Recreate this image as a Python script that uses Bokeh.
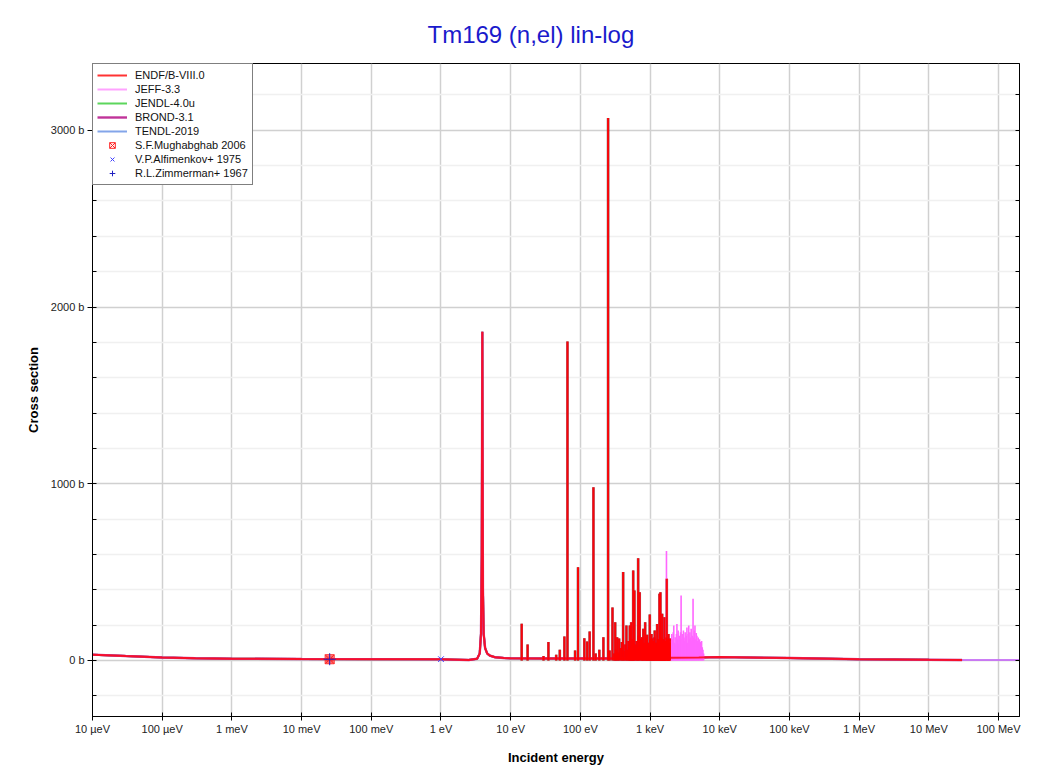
import numpy as np
from bokeh.plotting import figure
from bokeh.models import (FixedTicker, LinearAxis, Range1d, Legend, LegendItem,
                          CustomJSTickFormatter)
from bokeh.embed import file_html
from bokeh.resources import INLINE

FONT = "Liberation Sans"

# ---------------- axis ticks ----------------
x_ticks = [1e-5, 1e-4, 1e-3, 1e-2, 1e-1, 1.0, 10.0, 100.0, 1e3, 1e4, 1e5, 1e6, 1e7, 1e8]
x_tick_labels = ["10 µeV", "100 µeV", "1 meV", "10 meV", "100 meV", "1 eV", "10 eV",
                 "100 eV", "1 keV", "10 keV", "100 keV", "1 MeV", "10 MeV", "100 MeV"]
y_ticks = [0, 1000, 2000, 3000]
y_tick_labels = ["0 b", "1000 b", "2000 b", "3000 b"]

# ---------------- smooth part of the evaluations (E in eV, sigma in b) ----------------
endf_e = [1e-5, 3e-5, 1e-4, 3e-4, 1e-3, 1e-2, 0.1, 1.0, 2.5, 3.3, 3.6, 3.75, 3.85,
          3.9, 3.92, 3.95, 4.0, 4.1, 4.3, 4.6, 5.0, 6.0, 8.0, 10.0, 30.0, 100.0,
          1000.0, 2000.0, 5000.0, 1e4, 1e5, 1e6, 1e7, 3e7]
endf_xs = [33, 25, 17, 13, 10, 8, 7.5, 6.5, 3, 10, 40, 150, 600,
           1500, 1860, 1200, 400, 150, 70, 40, 28, 18, 14, 12, 11, 11,
           11, 15, 17, 19, 14, 7, 4, 3]

# high-energy continuation of JEFF-3.3 and TENDL-2019
ext_e = [3e7, 6e7, 1e8, 2e8]
ext_xs = [3.0, 2.8, 2.6, 2.5]

# ---------------- resolved resonances (peak energies, peak cross sections) ----------------
endf_res_e = [14.4, 17.5, 29.6, 34.8, 45.0, 50.7, 59.0, 65.3, 84.0, 92.6,
              114, 125, 136, 154, 166, 187, 214, 250, 263, 289,
              305, 316, 325, 337, 350, 360, 380, 393, 411, 420,
              440, 458, 470, 490, 500, 512, 525, 536, 550, 560,
              573, 585, 597, 620, 640, 655, 675, 690, 711, 740,
              765, 780, 800, 820, 851, 870, 890, 908, 930, 950,
              970, 991, 1010, 1030, 1050, 1065, 1090, 1110, 1130, 1150,
              1167, 1190, 1210, 1230, 1264, 1280, 1300, 1330, 1350, 1364,
              1380, 1409, 1430, 1450, 1470, 1492, 1520, 1540, 1570, 1590,
              1610, 1640, 1660, 1690, 1710, 1738, 1770, 1790, 1810, 1837,
              1860, 1880, 1900, 1931]
endf_res_xs = [208, 90, 25, 104, 32, 60, 136, 1805, 57, 528,
               126, 107, 164, 980, 40, 60, 132, 3070, 57, 300,
               40, 217, 60, 132, 45, 125, 70, 104, 500, 55,
               90, 198, 60, 110, 75, 198, 70, 217, 85, 120,
               509, 60, 396, 90, 110, 75, 579, 140, 386, 120,
               132, 80, 180, 100, 217, 90, 130, 145, 60, 100,
               80, 260, 120, 70, 150, 125, 90, 110, 60, 130,
               170, 85, 100, 70, 207, 95, 120, 80, 110, 377,
               70, 386, 90, 130, 60, 264, 100, 80, 120, 70,
               245, 90, 110, 80, 130, 462, 100, 75, 120, 150,
               90, 70, 100, 125]

# JEFF-3.3 resonances beyond the ENDF set (extended resolved range)
jeff_res_e = [1720, 1960, 2000, 2050, 2100, 2150, 2190, 2240, 2290, 2340,
              2390, 2430, 2480, 2530, 2580, 2630, 2680, 2740, 2790, 2850,
              2900, 2960, 3010, 3070, 3130, 3190, 3250, 3310, 3380, 3450,
              3520, 3590, 3660, 3730, 3810, 3890, 3970, 4050, 4140, 4230,
              4320, 4410, 4500, 4600, 4700, 4800, 4910, 5020, 5130, 5250,
              5370, 5490, 5610, 5740, 5870]
jeff_res_xs = [620, 110, 90, 150, 120, 160, 198, 100, 132, 90,
               150, 207, 120, 170, 95, 140, 110, 160, 368, 120,
               150, 90, 170, 130, 110, 160, 120, 140, 187, 100,
               150, 198, 120, 160, 130, 180, 110, 140, 349, 130,
               170, 198, 120, 155, 140, 110, 130, 95, 120, 104,
               80, 110, 75, 60, 40]

# ---------------- experimental data ----------------
mugh_e = [0.0253]
mugh_xs = [7.0]
alf_e = [1.0]
alf_xs = [7.5]
zim_e = [0.0253]
zim_xs = [7.0]

C_ENDF = "#ff0000"
C_JEFF = "#ff66ff"
C_JENDL = "#33cc33"
C_BROND = "#b0007f"
C_TENDL = "#4f7fe0"

p = figure(width=1037, height=767, x_axis_type="log",
           x_range=Range1d(1e-5, 2e8), y_range=Range1d(-317, 3378),
           output_backend="svg", toolbar_location=None,
           min_border_left=92, min_border_top=63, min_border_right=18,
           min_border_bottom=51)

p.title.text = "Tm169 (n,el) lin-log"
p.title.text_font = FONT
p.title.text_font_size = "24px"
p.title.text_font_style = "normal"
p.title.text_color = "#1a1acc"
p.title.align = "left"
p.title.offset = 335
p.title.standoff = 32

p.background_fill_color = "white"
p.border_fill_color = "white"
p.outline_line_color = "black"
p.outline_line_width = 1

# ticks / formatters
xtk = FixedTicker(ticks=x_ticks, minor_ticks=[])
y_minor = [v for v in range(-200, 3400, 200) if v not in y_ticks]
ytk = FixedTicker(ticks=y_ticks, minor_ticks=y_minor)
nearest_code = """
let best = 0, d = Infinity;
for (let i = 0; i < vals.length; i++) {
  const dd = Math.abs(%s);
  if (dd < d) { d = dd; best = i; }
}
return labs[best];
"""
xfmt = CustomJSTickFormatter(args=dict(vals=x_ticks, labs=x_tick_labels),
                             code=nearest_code % "Math.log10(vals[i]) - Math.log10(tick)")
yfmt = CustomJSTickFormatter(args=dict(vals=y_ticks, labs=y_tick_labels),
                             code=nearest_code % "vals[i] - tick")

xa = p.xaxis[0]
xa.ticker = xtk
xa.formatter = xfmt
xa.major_tick_in = 4
xa.major_tick_out = 4
xa.minor_tick_in = 0
xa.minor_tick_out = 0
xa.major_label_standoff = 2
xa.axis_label = "Incident energy"
xa.axis_label_standoff = 12

ya = p.yaxis[0]
ya.ticker = ytk
ya.formatter = yfmt
ya.major_tick_in = 4
ya.major_tick_out = 5
ya.minor_tick_in = 4
ya.minor_tick_out = 0
ya.major_label_standoff = 3
ya.axis_label = "Cross section"
ya.axis_label_standoff = 7

for ax in (xa, ya):
    ax.axis_line_color = "black"
    ax.major_tick_line_color = "black"
    ax.minor_tick_line_color = "black"
    ax.major_label_text_font = FONT
    ax.major_label_text_font_size = "11px"
    ax.major_label_text_color = "#222222"
    ax.axis_label_text_font = FONT
    ax.axis_label_text_font_size = "13px"
    ax.axis_label_text_font_style = "bold"
    ax.axis_label_text_color = "black"

ra = LinearAxis(ticker=ytk, formatter=CustomJSTickFormatter(code="return '';"),
                major_tick_in=4, major_tick_out=0, minor_tick_in=4, minor_tick_out=0,
                axis_line_color="black", major_tick_line_color="black",
                minor_tick_line_color="black", major_label_text_font_size="1px")
p.add_layout(ra, "right")

p.xgrid.ticker = xtk
p.ygrid.ticker = ytk
p.xgrid.grid_line_color = "#d0d0d0"
p.xgrid.grid_line_width = 1.5
p.ygrid.grid_line_color = "#d0d0d0"
p.ygrid.grid_line_width = 1.5
p.ygrid.minor_grid_line_color = "#f0f0f0"
p.ygrid.minor_grid_line_width = 1.5

# ---------------- curves ----------------
tendl_e = endf_e + ext_e[1:]
tendl_xs = endf_xs + ext_xs[1:]

r_tendl = p.line(tendl_e, tendl_xs, line_color=C_TENDL, line_width=2, line_alpha=0.7)
r_jendl = p.line(endf_e, endf_xs, line_color=C_JENDL, line_width=2, line_alpha=0.8)
p.segment(x0=endf_res_e, y0=[0] * len(endf_res_e), x1=endf_res_e, y1=endf_res_xs,
          line_color=C_JENDL, line_width=2.6, line_alpha=0.6)
r_brond = p.line(endf_e, endf_xs, line_color=C_BROND, line_width=2.4, line_alpha=0.8)
p.segment(x0=endf_res_e, y0=[0] * len(endf_res_e), x1=endf_res_e, y1=endf_res_xs,
          line_color=C_BROND, line_width=2.6, line_alpha=0.6)
r_jeff = p.line(tendl_e, tendl_xs, line_color=C_JEFF, line_width=2, line_alpha=0.6)
p.segment(x0=jeff_res_e, y0=[0] * len(jeff_res_e), x1=jeff_res_e, y1=jeff_res_xs,
          line_color=C_JEFF, line_width=1.6, line_alpha=1.0)
r_endf = p.line(endf_e, endf_xs, line_color=C_ENDF, line_width=2, line_alpha=0.8)
p.segment(x0=endf_res_e, y0=[0] * len(endf_res_e), x1=endf_res_e, y1=endf_res_xs,
          line_color=C_ENDF, line_width=2, line_alpha=0.95)

# experimental points
p.scatter(mugh_e, mugh_xs, marker="square", size=8, fill_color="#ff0000",
          fill_alpha=0.6, line_color=None)
r_mugh = p.scatter(mugh_e, mugh_xs, marker="square_x", size=9, fill_color=None,
                   line_color="#ff2020", line_width=1)
r_alf = p.scatter(alf_e, alf_xs, marker="x", size=8, line_color="#4040ff", line_width=1)
r_zim = p.scatter(zim_e, zim_xs, marker="cross", size=12, line_color="#2020c0", line_width=1)

legend = Legend(items=[
    LegendItem(label="ENDF/B-VIII.0", renderers=[r_endf]),
    LegendItem(label="JEFF-3.3", renderers=[r_jeff]),
    LegendItem(label="JENDL-4.0u", renderers=[r_jendl]),
    LegendItem(label="BROND-3.1", renderers=[r_brond]),
    LegendItem(label="TENDL-2019", renderers=[r_tendl]),
    LegendItem(label="S.F.Mughabghab 2006", renderers=[r_mugh]),
    LegendItem(label="V.P.Alfimenkov+ 1975", renderers=[r_alf]),
    LegendItem(label="R.L.Zimmerman+ 1967", renderers=[r_zim]),
], location="top_left")
legend.label_text_font = FONT
legend.label_text_font_size = "11px"
legend.label_text_color = "#111111"
legend.glyph_width = 30
legend.glyph_height = 14
legend.label_height = 14
legend.label_standoff = 8
legend.spacing = 0
legend.padding = 4
legend.margin = 0
legend.border_line_color = "black"
legend.border_line_width = 1
legend.background_fill_color = "white"
legend.background_fill_alpha = 1.0
p.add_layout(legend)

open("out.html", "w").write(file_html(p, INLINE))
